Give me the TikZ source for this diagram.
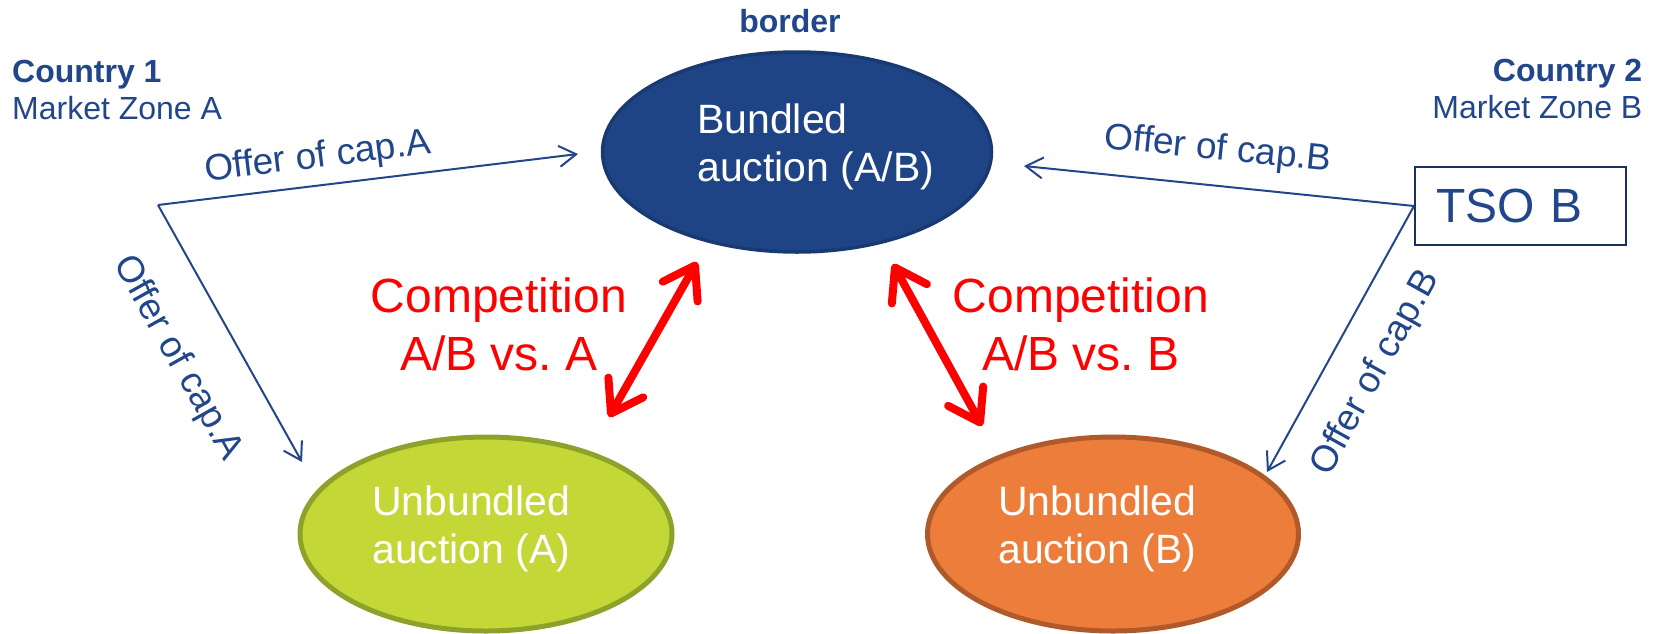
\documentclass[tikz,border=0pt]{standalone}
\usepackage{fontspec}
\setmainfont{Liberation Sans}
\usetikzlibrary{shapes.geometric,arrows.meta}

\definecolor{navy}{HTML}{21468A}
\definecolor{bundfill}{HTML}{1F4485}
\definecolor{bunddraw}{HTML}{183A70}
\definecolor{limefill}{HTML}{C3D737}
\definecolor{limedraw}{HTML}{8EA12A}
\definecolor{orangefill}{HTML}{ED7D3B}
\definecolor{orangedraw}{HTML}{B0592A}
\definecolor{compred}{HTML}{FF0000}

\newcommand\setfs[2]{\fontsize{#1}{#2}\selectfont}
\frenchspacing

\begin{document}
\begin{tikzpicture}[x=1pt,y=-1pt,
  auction/.style={ellipse, inner sep=0pt},
  intext/.style={inner sep=0pt, align=left, text=white, font=\setfs{41}{48}},
  comptext/.style={inner sep=0pt, align=center, text=compred, font=\setfs{48}{58}},
  offer/.style={inner sep=0pt, text=navy, font=\setfs{37}{44}},
  zonehead/.style={inner sep=0pt, text=navy, font=\setfs{32}{38}\bfseries},
  zonename/.style={inner sep=0pt, text=navy, font=\setfs{32}{38}},
  offerarrow/.style={draw=navy, line width=2pt, -{Straight Barb[length=17pt,width=21pt]}},
  comparrow/.style={draw=compred, line width=8pt,
    {Straight Barb[round,length=30pt,width=40pt]}-{Straight Barb[round,length=30pt,width=40pt]}}
]
\useasboundingbox (0,0) rectangle (1659,633);

% auction ellipses
\node[auction, fill=bundfill, draw=bunddraw, line width=3.5pt,
      minimum width=389pt, minimum height=200pt] (bund) at (797,152) {};
\node[auction, fill=limefill, draw=limedraw, line width=5pt,
      minimum width=372pt, minimum height=194pt] (unbA) at (486,534) {};
\node[auction, fill=orangefill, draw=orangedraw, line width=5pt,
      minimum width=371pt, minimum height=194pt] (unbB) at (1113,534) {};

\node[intext, anchor=west] (bundtxt) at (697,146.5) {Bundled\\auction (A/B)};
\node[intext, anchor=west] (unbAtxt) at (372,529) {Unbundled\\auction (A)};
\node[intext, anchor=west] (unbBtxt) at (998,529) {Unbundled\\auction (B)};

% headings
\node[zonehead, anchor=base] (border) at (790,32) {border};
\node[zonehead, anchor=base west] (c1) at (12,82) {Country 1};
\node[zonename, anchor=base west] (z1) at (12,119) {Market Zone A};
\node[zonehead, anchor=base east] (c2) at (1642.5,81) {Country 2};
\node[zonename, anchor=base east] (z2) at (1642.5,118) {Market Zone B};

% TSO box
\node[draw=navy!70!black, line width=2pt, minimum width=211pt, minimum height=78pt,
      inner xsep=21pt, inner ysep=0pt, text width=169pt, align=left,
      text=navy, font=\setfs{48}{56}] (tso) at (1520.5,206) {TSO B};

% offer connectors
\coordinate (splitA) at (158,205);
\coordinate (tipAtop) at (578,154);
\coordinate (tipAlow) at (302,462);
\coordinate (tipBtop) at (1024,166);
\coordinate (tipBlow) at (1267,472);

\draw[offerarrow] (splitA) -- (tipAtop);
\draw[offerarrow] (splitA) -- (tipAlow);
\draw[offerarrow] (tso.west) -- (tipBtop);
\draw[offerarrow] (tso.west) -- (tipBlow);

\node[offer, rotate=7] (lblAtop) at (318,158) {Offer of cap.A};
\node[offer, rotate=-60.8] (lblAlow) at (177,358) {Offer of cap.A};
\node[offer, rotate=-5.8] (lblBtop) at (1218,150) {Offer of cap.B};
\node[offer, rotate=60.9] (lblBlow) at (1376,373) {Offer of cap.B};

% competition arrows
\coordinate (cmpAlow) at (609,417);
\coordinate (cmpAtop) at (697,262);
\coordinate (cmpBtop) at (893,264);
\coordinate (cmpBlow) at (982,426);
\draw[comparrow] (cmpAlow) -- (cmpAtop);
\draw[comparrow] (cmpBtop) -- (cmpBlow);

\node[comptext] (compA) at (499,324) {Competition\\A/B vs. A};
\node[comptext] (compB) at (1081,324) {Competition\\A/B vs. B};
\end{tikzpicture}
\end{document}
